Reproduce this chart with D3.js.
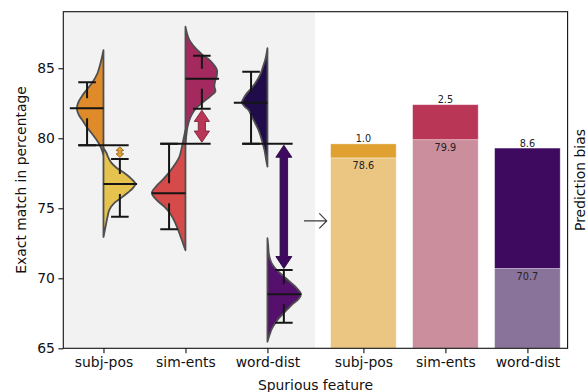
<!DOCTYPE html>
<html>
<head>
<meta charset="utf-8">
<script src="https://cdn.jsdelivr.net/npm/d3@7"></script>
<style>
  html, body { margin: 0; padding: 0; background: #ffffff; }
  svg { display: block; font-family: "DejaVu Sans", sans-serif; }
</style>
</head>
<body>
<svg id="chart" width="587" height="392"></svg>
<script>
// ---- data ---------------------------------------------------------------
const features = ["subj-pos", "sim-ents", "word-dist"];
const yTicks = [65, 70, 75, 80, 85];

// split violins: left half and right half of every feature
const leftMean = [82.14, 76.07, 82.54];
const leftLo   = [79.50, 73.50, 79.61];
const leftHi   = [84.00, 79.61, 84.76];
const rightMean = [76.74, 84.26, 68.86];
const rightLo   = [74.40, 82.11, 66.83];
const rightHi   = [78.52, 85.90, 70.59];

// density profiles [score, density]
const leftDensity = [
  [[86.3,0],[85.5,2.5],[84.7,5.7],[84.0,11],[83.45,17],[83.1,20.7],[82.6,25],[82.15,26.7],[81.7,25],[81.3,21.3],[80.7,15.7],[80.25,10.7],[79.75,5.7],[79.3,2.3],[78.8,0]],
  [[80.6,0],[80.1,1.5],[79.4,3.5],[78.7,6],[78.2,10],[77.6,16],[77.1,22],[76.6,29],[76.1,33.7],[75.6,29],[75.1,21],[74.6,15],[74.0,10.5],[73.4,7],[72.9,4.5],[72.4,2],[72.0,0]],
  [[86.43,0],[86.0,1],[85.59,2.3],[85.1,4.5],[84.64,6.7],[83.93,12.3],[83.5,17],[83.21,20.7],[82.85,24],[82.54,25.7],[82.25,22.5],[82.02,19],[81.6,16],[81.31,14],[80.59,9],[79.88,5.7],[79.16,3],[78.45,1.3],[77.97,0]]
];
const rightDensity = [
  [[79.3,0],[78.95,3],[78.6,5],[78.24,8],[77.9,13],[77.52,21],[77.1,28],[76.74,32],[76.4,29],[76.09,24],[75.7,17],[75.38,11],[74.9,6],[74.38,4],[73.66,2],[72.95,0]],
  [[87.97,0],[87.5,1.5],[87.0,4],[86.6,8],[86.3,12],[85.9,18],[85.6,24],[85.2,29],[84.85,31.7],[84.5,31.5],[84.0,29.5],[83.7,29],[83.35,30],[83.0,25],[82.6,18],[82.25,12],[81.9,8],[81.5,5],[80.8,2],[80.1,0.7],[79.6,0]],
  [[72.86,0],[72.3,0.8],[71.79,1.3],[71.4,2.5],[71.07,4.3],[70.7,8],[70.36,12.7],[70.0,18.5],[69.64,24.3],[69.25,30],[68.86,33.7],[68.5,31],[68.21,26],[67.85,21],[67.5,16],[67.15,11.5],[66.79,7.7],[66.4,4.5],[66.07,2.7],[65.47,0]]
];

// stacked bars: base score and prediction bias on top
const baseScore = [78.6, 79.9, 70.7];
const predictionBias = [1.0, 2.5, 8.6];

// ---- palette --------------------------------------------------------------
const leftColors  = ["#e08b2a", "#d64a4a", "#200c4a"];
const rightColors = ["#e6c24f", "#a4295f", "#55106d"];
const biasColors  = ["#e0a131", "#ba3656", "#3d0a60"];
const baseColors  = ["#ebc683", "#cb8e9c", "#8a739b"];

// ---- layout ---------------------------------------------------------------
const svg = d3.select("#chart");
const frame = { left: 63.3, right: 567.6, top: 11.7, bottom: 348.3 };
const split = 315;

const y = d3.scaleLinear().domain([65, 89.04]).range([frame.bottom, frame.top]);
const xL = d3.scaleLinear().domain([-0.49, 2.58]).range([frame.left, split]);
const xR = d3.scaleLinear().domain([-0.59, 2.49]).range([split, frame.right]);
const step = xL(1) - xL(0);

const allDensity = leftDensity.concat(rightDensity).flat().map(d => d[1]);
const w = d3.scaleLinear().domain([0, d3.max(allDensity)]).range([0, 0.41 * step]);

svg.append("rect").attr("width", 587).attr("height", 392).attr("fill", "#ffffff");

// shaded panel behind the violins
svg.append("rect")
  .attr("x", frame.left).attr("y", frame.top)
  .attr("width", split - frame.left).attr("height", frame.bottom - frame.top)
  .attr("fill", "#f2f2f2");

svg.append("clipPath").attr("id", "plot-clip")
  .append("rect")
  .attr("x", frame.left).attr("y", frame.top)
  .attr("width", frame.right - frame.left).attr("height", frame.bottom - frame.top);

const plot = svg.append("g").attr("clip-path", "url(#plot-clip)");

// ---- split violins ------------------------------------------------------
const halfArea = (cx, side) => d3.area()
  .curve(d3.curveCatmullRom.alpha(0.5))
  .y(d => y(d[0]))
  .x0(cx)
  .x1(d => cx + side * w(d[1]));

features.forEach((f, i) => {
  const cx = xL(i);
  plot.append("path").datum(leftDensity[i])
    .attr("d", halfArea(cx, -1))
    .attr("fill", leftColors[i])
    .attr("stroke", "#4f4f4f").attr("stroke-width", 1.8)
    .attr("stroke-linejoin", "round");
  plot.append("path").datum(rightDensity[i])
    .attr("d", halfArea(cx, 1))
    .attr("fill", rightColors[i])
    .attr("stroke", "#4f4f4f").attr("stroke-width", 1.8)
    .attr("stroke-linejoin", "round");
});

// ---- means and confidence intervals ----------------------------------------
const barOffset = 0.2 * step;
const capHalf = 8.8;
const meanLen = 0.41 * step;
const gap = 10;
const ink = "#151515";

function interval(g, x, mean, lo, hi) {
  const ym = y(mean);
  g.append("line").attr("x1", x).attr("x2", x)
    .attr("y1", y(hi)).attr("y2", ym - gap);
  g.append("line").attr("x1", x).attr("x2", x)
    .attr("y1", ym + gap).attr("y2", y(lo));
  [lo, hi].forEach(v => g.append("line")
    .attr("x1", x - capHalf).attr("x2", x + capHalf)
    .attr("y1", y(v)).attr("y2", y(v)));
}

const marks = plot.append("g")
  .attr("stroke", ink).attr("stroke-width", 2).attr("fill", "none");

features.forEach((f, i) => {
  const cx = xL(i);
  marks.append("line").attr("x1", cx - meanLen).attr("x2", cx)
    .attr("y1", y(leftMean[i])).attr("y2", y(leftMean[i]));
  marks.append("line").attr("x1", cx).attr("x2", cx + meanLen)
    .attr("y1", y(rightMean[i])).attr("y2", y(rightMean[i]));
  interval(marks, cx - barOffset, leftMean[i], leftLo[i], leftHi[i]);
  interval(marks, cx + barOffset, rightMean[i], rightLo[i], rightHi[i]);

  // bound of the left interval facing the right half, carried across
  const leftEdge = leftMean[i] > rightMean[i] ? leftLo[i] : leftHi[i];
  marks.append("line")
    .attr("x1", cx - barOffset - capHalf).attr("x2", cx + barOffset + capHalf)
    .attr("y1", y(leftEdge)).attr("y2", y(leftEdge));
});

// ---- gap arrows ----------------------------------------------------------
function doubleArrow(g, x, v1, v2, color) {
  const inset = 1.5;
  const t = Math.min(y(v1), y(v2)) + inset;
  const b = Math.max(y(v1), y(v2)) - inset;
  const hl = Math.min(12, 0.35 * (b - t));
  const hw = 4 + hl;
  const sw = hw * 0.47;
  const pts = [
    [x, t], [x + hw / 2, t + hl], [x + sw / 2, t + hl], [x + sw / 2, b - hl],
    [x + hw / 2, b - hl], [x, b], [x - hw / 2, b - hl], [x - sw / 2, b - hl],
    [x - sw / 2, t + hl], [x - hw / 2, t + hl]
  ];
  g.append("path")
    .attr("d", d3.line()(pts) + "Z")
    .attr("fill", color)
    .attr("stroke", d3.color(color).darker(1.2))
    .attr("stroke-width", 0.9)
    .attr("stroke-linejoin", "miter");
}

features.forEach((f, i) => {
  const cx = xL(i);
  const leftEdge = leftMean[i] > rightMean[i] ? leftLo[i] : leftHi[i];
  const rightEdge = rightMean[i] > leftMean[i] ? rightLo[i] : rightHi[i];
  doubleArrow(plot, cx + barOffset, leftEdge, rightEdge, biasColors[i]);
});

// ---- stacked bars -------------------------------------------------------
const barW = 0.8 * step;
features.forEach((f, i) => {
  const cx = xR(i);
  const top = baseScore[i] + predictionBias[i];
  plot.append("rect")
    .attr("x", cx - barW / 2).attr("width", barW)
    .attr("y", y(baseScore[i])).attr("height", y.range()[0] - y(baseScore[i]))
    .attr("fill", baseColors[i])
    .attr("stroke", "#ffffff").attr("stroke-opacity", 0.45).attr("stroke-width", 0.8);
  plot.append("rect")
    .attr("x", cx - barW / 2).attr("width", barW)
    .attr("y", y(top)).attr("height", y(baseScore[i]) - y(top))
    .attr("fill", biasColors[i])
    .attr("stroke", "#ffffff").attr("stroke-opacity", 0.45).attr("stroke-width", 0.8);

  svg.append("text")
    .attr("x", cx).attr("y", y(top) - 1.5)
    .attr("text-anchor", "middle").attr("font-size", 9.7).attr("fill", "#222")
    .text(d3.format(".1f")(predictionBias[i]));
  svg.append("text")
    .attr("x", cx).attr("y", y(baseScore[i]) + 11.5)
    .attr("text-anchor", "middle").attr("font-size", 9.7).attr("fill", "#222")
    .text(d3.format(".1f")(baseScore[i]));
});

// ---- transition arrow between panels ------------------------------------
const ay = y(74.1);
svg.append("path")
  .attr("d", `M${split - 11},${ay}H${split + 11.7}M${split + 4.3},${ay - 7.5}L${split + 11.7},${ay}L${split + 4.3},${ay + 7.5}`)
  .attr("fill", "none").attr("stroke", "#3a3a3a").attr("stroke-width", 1.2);

// ---- frame and axes -------------------------------------------------------
svg.append("rect")
  .attr("x", frame.left).attr("y", frame.top)
  .attr("width", frame.right - frame.left).attr("height", frame.bottom - frame.top)
  .attr("fill", "none").attr("stroke", "#111").attr("stroke-width", 1.1);

const yAxis = svg.append("g")
  .attr("transform", `translate(${frame.left},0)`)
  .call(d3.axisLeft(y).tickValues(yTicks).tickSize(4.9).tickPadding(3.5));

const xAxisL = svg.append("g")
  .attr("transform", `translate(0,${frame.bottom})`)
  .call(d3.axisBottom(xL).tickValues([0, 1, 2]).tickFormat(i => features[i]).tickSize(4.9).tickPadding(3.5));

const xAxisR = svg.append("g")
  .attr("transform", `translate(0,${frame.bottom})`)
  .call(d3.axisBottom(xR).tickValues([0, 1, 2]).tickFormat(i => features[i]).tickSize(4.9).tickPadding(3.5));

[yAxis, xAxisL, xAxisR].forEach(g => {
  g.select(".domain").remove();
  g.selectAll(".tick line").attr("stroke", "#111").attr("stroke-width", 1.1);
  g.selectAll(".tick text")
    .attr("font-family", "DejaVu Sans").attr("font-size", 13.9).attr("fill", "#111");
});

svg.append("text")
  .attr("transform", `translate(26,${(frame.top + frame.bottom) / 2}) rotate(-90)`)
  .attr("text-anchor", "middle").attr("font-size", 13.9).attr("fill", "#111")
  .text("Exact match in percentage");

svg.append("text")
  .attr("transform", `translate(585,${(frame.top + frame.bottom) / 2}) rotate(-90)`)
  .attr("text-anchor", "middle").attr("font-size", 13.9).attr("fill", "#111")
  .text("Prediction bias");

svg.append("text")
  .attr("x", (frame.left + frame.right) / 2).attr("y", 390)
  .attr("text-anchor", "middle").attr("font-size", 13.9).attr("fill", "#111")
  .text("Spurious feature");
</script>
</body>
</html>
